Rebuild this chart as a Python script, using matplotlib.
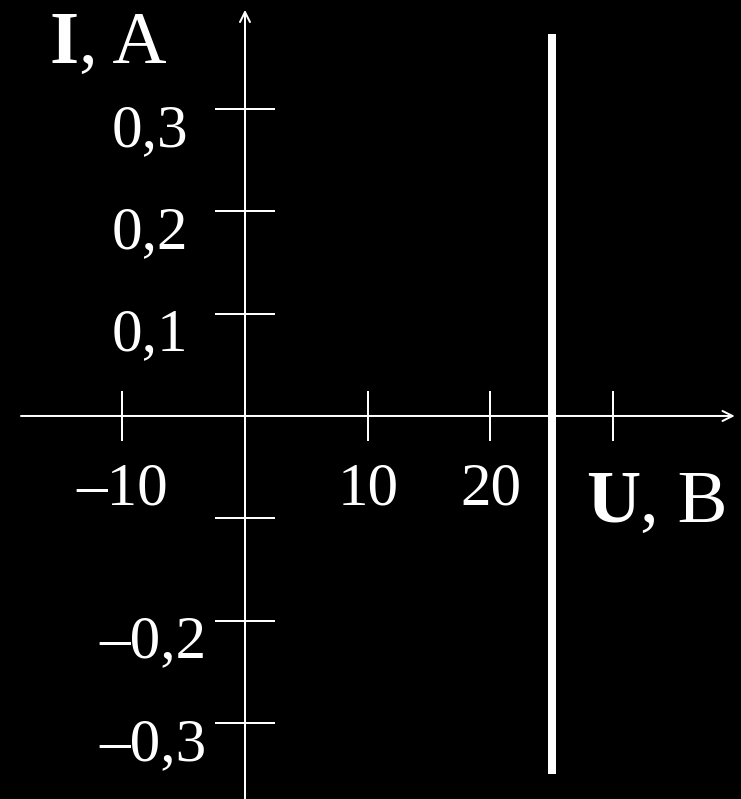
import matplotlib
matplotlib.use("Agg")
import matplotlib.pyplot as plt

plt.rcParams['font.family'] = ['Liberation Serif', 'DejaVu Serif']

# axis ticks and their labels (the -0.1 tick and the 30 tick carry no label)
X_TICKS = [-10, 10, 20, 30]
X_LABELS = ['–10', '10', '20', '']
Y_TICKS = [0.3, 0.2, 0.1, -0.1, -0.2, -0.3]
Y_LABELS = ['0,3', '0,2', '0,1', '', '–0,2', '–0,3']

# the characteristic: constant voltage U = 25 V for any current
U_LINE = 25
I_RANGE = (-0.35, 0.373)

X_LIM = (-19.96, 40.41)
Y_LIM = (-0.3744, 0.4066)
X_AXIS_SPAN = (-18.25, 39.9)
Y_AXIS_TOP = 0.397

FG = 'white'
LABEL_SIZE = 44
TITLE_SIZE = 54

fig = plt.figure(figsize=(7.41, 7.99), dpi=100, facecolor='black')
ax = fig.add_axes([0, 0, 1, 1], facecolor='black')
ax.set_xlim(*X_LIM)
ax.set_ylim(*Y_LIM)

# spines sit at zero only to carry the ticks; the axes themselves are arrows
for side in ['left', 'bottom']:
    ax.spines[side].set_position(('data', 0))
for spine in ax.spines.values():
    spine.set_visible(False)

ax.set_xticks(X_TICKS)
ax.set_yticks(Y_TICKS)
ax.tick_params(axis='x', direction='inout', length=36, width=1.44, color=FG,
               labelbottom=False)
ax.tick_params(axis='y', direction='inout', length=43, width=1.44, color=FG,
               labelleft=False)

arrow = dict(arrowstyle='->, head_length=0.6, head_width=0.3', color=FG,
             lw=1.44, shrinkA=0, shrinkB=0, mutation_scale=12)
ax.annotate('', xy=(X_AXIS_SPAN[1], 0), xytext=(X_AXIS_SPAN[0], 0), arrowprops=arrow)
ax.annotate('', xy=(0, Y_AXIS_TOP), xytext=(0, Y_LIM[0]), arrowprops=arrow)

for t, lbl in zip(X_TICKS, X_LABELS):
    ax.annotate(lbl, xy=(t, 0), xytext=(0, -89), textcoords='offset pixels',
                ha='center', va='baseline', color=FG, fontsize=LABEL_SIZE)

for t, lbl in zip(Y_TICKS, Y_LABELS):
    dx = -57 if t > 0 else -38
    ax.annotate(lbl, xy=(0, t), xytext=(dx, -37), textcoords='offset pixels',
                ha='right', va='baseline', color=FG, fontsize=LABEL_SIZE)

ax.plot([U_LINE, U_LINE], I_RANGE, color=FG, lw=5.76, solid_capstyle='butt')

# axis titles: bold symbol followed by the regular unit
def axis_title(x, y, sym, unit):
    t = ax.text(x, y, sym, transform=ax.transAxes, ha='left', va='baseline',
                color=FG, fontsize=TITLE_SIZE, fontweight='bold')
    ax.annotate(unit, xy=(1, 0), xycoords=t, ha='left', va='bottom',
                color=FG, fontsize=TITLE_SIZE)

axis_title(50 / 741, 1 - 63 / 799, 'I', ', A')
axis_title(586 / 741, 1 - 522 / 799, 'U', ', B')

fig.savefig('out.png', dpi=100, facecolor='black')
